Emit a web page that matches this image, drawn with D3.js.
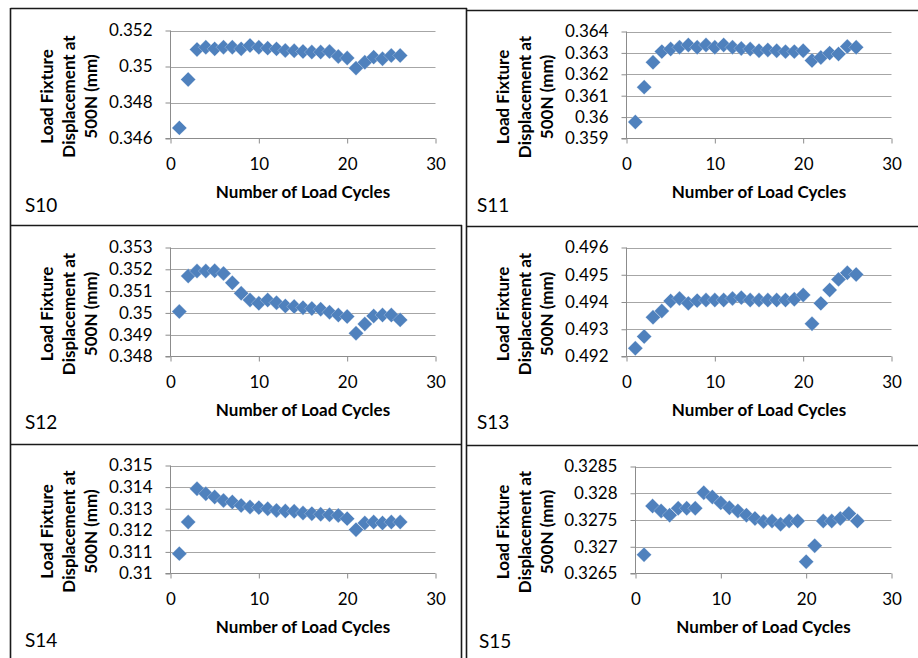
<!DOCTYPE html>
<html>
<head>
<meta charset="utf-8">
<script src="https://cdn.jsdelivr.net/npm/d3@7"></script>
<style>
  body { margin: 0; background: #fff; }
  svg { display: block; }
  text { font-family: Lato, "Open Sans", sans-serif; fill: #000; }
</style>
</head>
<body>
<svg id="chart" width="918" height="658"></svg>
<script>
// Load cycle number for every measurement
const cycles = [1, 2, 3, 4, 5, 6, 7, 8, 9, 10, 11, 12, 13, 14, 15, 16, 17, 18, 19, 20, 21, 22, 23, 24, 25, 26];

// Load fixture displacement at 500 N (mm), one array per specimen
const s10 = [0.34659, 0.34928, 0.35095, 0.35107, 0.35098, 0.35107, 0.35107, 0.35098, 0.35117, 0.35107,
             0.35102, 0.35098, 0.35089, 0.35087, 0.35083, 0.35080, 0.35080, 0.35083, 0.35056, 0.35047,
             0.34991, 0.35024, 0.35052, 0.35043, 0.35061, 0.35061];
const s11 = [0.35977, 0.36140, 0.36256, 0.36306, 0.36318, 0.36326, 0.36337, 0.36326, 0.36337, 0.36326,
             0.36337, 0.36326, 0.36321, 0.36318, 0.36310, 0.36314, 0.36310, 0.36306, 0.36306, 0.36310,
             0.36264, 0.36279, 0.36299, 0.36295, 0.36330, 0.36326];
const s12 = [0.35006, 0.35169, 0.35192, 0.35192, 0.35193, 0.35181, 0.35138, 0.35090, 0.35059, 0.35044,
             0.35059, 0.35047, 0.35032, 0.35029, 0.35024, 0.35020, 0.35017, 0.35003, 0.34990, 0.34983,
             0.34907, 0.34949, 0.34986, 0.34990, 0.34990, 0.34968];
const s13 = [0.49230, 0.49273, 0.49344, 0.49367, 0.49404, 0.49413, 0.49395, 0.49405, 0.49407, 0.49407,
             0.49407, 0.49413, 0.49416, 0.49407, 0.49407, 0.49407, 0.49407, 0.49407, 0.49410, 0.49426,
             0.49320, 0.49395, 0.49444, 0.49483, 0.49507, 0.49501];
const s14 = [0.31092, 0.31238, 0.31392, 0.31369, 0.31354, 0.31338, 0.31331, 0.31315, 0.31308, 0.31305,
             0.31300, 0.31292, 0.31289, 0.31288, 0.31280, 0.31277, 0.31274, 0.31272, 0.31269, 0.31254,
             0.31203, 0.31234, 0.31238, 0.31234, 0.31238, 0.31238];
const s15 = [0.32685, 0.32776, 0.32767, 0.32759, 0.32772, 0.32772, 0.32772, 0.32801, 0.32793, 0.32782,
             0.32773, 0.32767, 0.32759, 0.32753, 0.32747, 0.32748, 0.32742, 0.32748, 0.32748, 0.32672,
             0.32702, 0.32748, 0.32748, 0.32753, 0.32762, 0.32748];

// Specimen names and per-chart tick labels
const specimens = ["S10", "S11", "S12", "S13", "S14", "S15"];
const seriesValues = [s10, s11, s12, s13, s14, s15];
const yTicks10 = [0.346, 0.348, 0.350, 0.352];
const yTicks11 = [0.359, 0.360, 0.361, 0.362, 0.363, 0.364];
const yTicks12 = [0.348, 0.349, 0.350, 0.351, 0.352, 0.353];
const yTicks13 = [0.492, 0.493, 0.494, 0.495, 0.496];
const yTicks14 = [0.310, 0.311, 0.312, 0.313, 0.314, 0.315];
const yTicks15 = [0.3265, 0.3270, 0.3275, 0.3280, 0.3285];
const yTickSets = [yTicks10, yTicks11, yTicks12, yTicks13, yTicks14, yTicks15];
const xTicks = [0, 10, 20, 30];
const xTitle = "Number of Load Cycles";
const yTitleLines = ["Load Fixture", "Displacement at", "500N (mm)"];

// Plot rectangles and frame positions for the 3 x 2 grid
const layout = [
  { L: 170.5, T: 30.5,  R: 435.5, B: 138.5, frame: 10,  lx: 25,  ly: 212 },
  { L: 626.5, T: 31.5,  R: 891.5, B: 138.5, frame: 466, lx: 477, ly: 212 },
  { L: 170.5, T: 247.5, R: 435.5, B: 356.5, frame: 10,  lx: 25,  ly: 429 },
  { L: 626.5, T: 247.5, R: 891.5, B: 356.5, frame: 466, lx: 477, ly: 429 },
  { L: 170.5, T: 465.5, R: 435.5, B: 573.5, frame: 10,  lx: 25,  ly: 647 },
  { L: 635.5, T: 466.5, R: 891.5, B: 573.5, frame: 466, lx: 479, ly: 648 }
];

const markerColor = "#4f81bd";
const gridColor = "#a6a6a6";
const axisColor = "#8c8c8c";
const tickFont = "17px";
const titleFont = "17px";
const fmt = d3.format(".4~f");

const svg = d3.select("#chart");

// Frame lines separating the six charts
const frameLines = [
  [10.5, 8.5, 467, 8.5], [467, 10.5, 918, 10.5],
  [10.5, 8, 10.5, 658], [466.5, 8, 466.5, 658], [461.5, 225, 461.5, 658],
  [10, 225.5, 462, 225.5], [466, 226.5, 918, 226.5],
  [10, 444.5, 462, 444.5], [466, 445.5, 918, 445.5]
];
svg.append("g").selectAll("line").data(frameLines).join("line")
  .attr("x1", d => d[0]).attr("y1", d => d[1])
  .attr("x2", d => d[2]).attr("y2", d => d[3])
  .attr("stroke", "#1a1a1a").attr("stroke-width", 1.6);

const diamond = d3.symbol(d3.symbolSquare, 112);

specimens.forEach((name, i) => {
  const lay = layout[i];
  const ticks = yTickSets[i];
  const values = seriesValues[i];
  const g = svg.append("g");

  const x = d3.scaleLinear().domain([0, 30]).range([lay.L, lay.R]);
  const y = d3.scaleLinear().domain([ticks[0], ticks[ticks.length - 1]]).range([lay.B, lay.T]);

  // horizontal gridlines
  g.append("g").selectAll("line").data(ticks.slice(1)).join("line")
    .attr("x1", lay.L).attr("x2", lay.R)
    .attr("y1", d => Math.round(y(d)) + 0.5).attr("y2", d => Math.round(y(d)) + 0.5)
    .attr("stroke", gridColor).attr("stroke-width", 1);

  // y axis with outside ticks
  const yAxis = d3.axisLeft(y).tickValues(ticks).tickFormat(fmt).tickSize(5).tickPadding(13);
  const ya = g.append("g").attr("transform", `translate(${lay.L},0)`).call(yAxis);
  ya.select(".domain").attr("stroke", axisColor).attr("d", `M-5,${lay.B}H0V${lay.T}`);
  ya.selectAll(".tick line").attr("stroke", axisColor);
  ya.selectAll(".tick text").style("font-size", tickFont).style("font-family", "Lato, sans-serif").attr("fill", "#000");

  // x axis
  const xAxis = d3.axisBottom(x).tickValues(xTicks).tickSize(5).tickPadding(14);
  const xa = g.append("g").attr("transform", `translate(0,${lay.B})`).call(xAxis);
  xa.select(".domain").attr("stroke", axisColor).attr("d", `M${lay.L},0H${lay.R}`);
  xa.selectAll(".tick line").attr("stroke", axisColor);
  xa.selectAll(".tick text").style("font-size", tickFont).style("font-family", "Lato, sans-serif").attr("fill", "#000");

  // axis titles
  g.append("text")
    .attr("x", (lay.L + lay.R) / 2).attr("y", lay.B + 59)
    .attr("text-anchor", "middle").style("font-size", titleFont).style("font-weight", "bold")
    .text(xTitle);

  const yt = g.append("g")
    .attr("transform", `translate(${lay.frame + 43},${(lay.T + lay.B) / 2 + 12}) rotate(-90)`);
  yt.selectAll("text").data(yTitleLines).join("text")
    .attr("x", 0).attr("y", (d, k) => k * 22)
    .attr("text-anchor", "middle").style("font-size", titleFont).style("font-weight", "bold")
    .text(d => d);

  // specimen label
  g.append("text").attr("x", lay.lx).attr("y", lay.ly)
    .style("font-size", "19px").text(name);

  // diamond markers, drawn in cycle order
  g.append("g").selectAll("path").data(cycles).join("path")
    .attr("d", diamond)
    .attr("transform", (c, k) => `translate(${x(c)},${y(values[k])}) rotate(45)`)
    .attr("fill", markerColor)
    .attr("stroke", "#ffffff").attr("stroke-opacity", 0.35).attr("stroke-width", 0.7);
});
</script>
</body>
</html>
